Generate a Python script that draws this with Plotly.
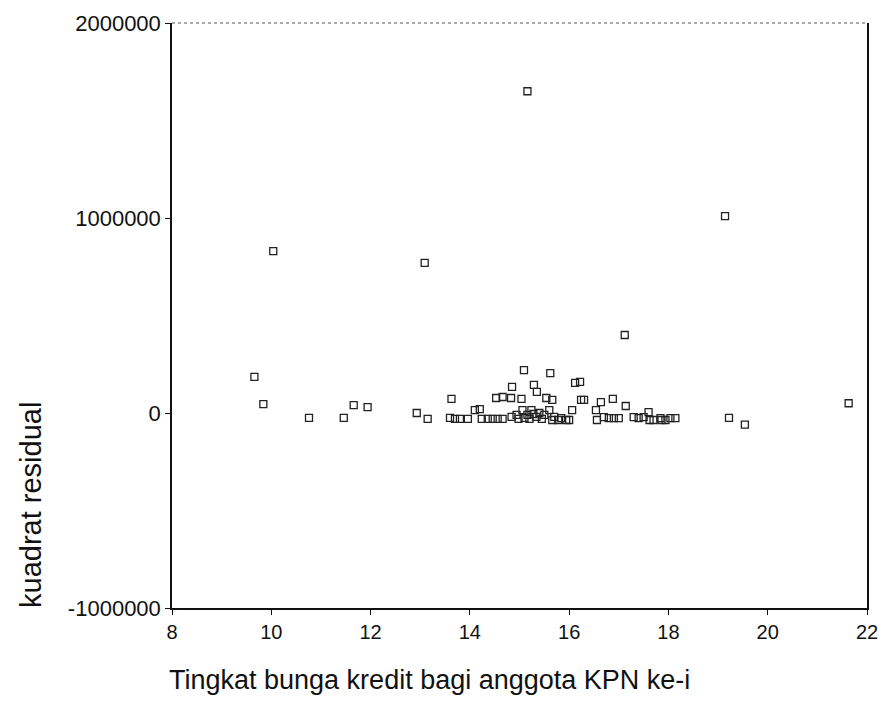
import plotly.graph_objects as go

# Tingkat bunga kredit (x) and kuadrat residual (y)
x_vals = [
    9.66, 9.84, 10.04, 10.76, 11.46, 11.66, 11.94, 12.93, 13.15, 13.09,
    15.16, 19.14, 17.12, 21.63, 19.22, 19.54,
    13.63, 13.60, 13.70, 13.80, 13.96, 14.10, 14.20, 14.24, 14.36, 14.46,
    14.56, 14.66, 14.53, 14.66, 14.83, 14.85, 15.04, 14.84, 14.94, 15.06,
    15.10, 15.16, 15.24, 15.29, 15.35, 15.34, 15.40, 15.09, 15.62, 15.54,
    15.66, 15.60, 15.70, 16.12, 16.22, 16.24, 16.30, 16.64, 16.88, 17.14,
    16.06, 16.54, 17.60, 16.00, 15.94, 16.56, 16.70, 16.80, 16.90, 17.00,
    17.30, 17.40, 17.50, 17.62, 17.70, 17.86, 17.94, 15.66, 15.78, 15.84,
    17.84, 18.04, 18.14, 15.20, 15.45, 15.50, 14.98, 15.28,
]
y_vals = [
    185000, 46000, 830000, -25000, -25000, 40000, 30000, 0, -30000, 770000,
    1650000, 1010000, 400000, 50000, -25000, -60000,
    72000, -25000, -30000, -30000, -30000, 15000, 20000, -30000, -30000, -30000,
    -30000, -30000, 77000, 82000, 77000, 134000, 72000, -20000, -10000, 15000,
    -25000, -10000, 15000, 144000, 108000, -20000, 0, 220000, 205000, 77000,
    67000, 15000, -20000, 154000, 160000, 67000, 67000, 56000, 72000, 36000,
    15000, 15000, 5000, -36000, -36000, -36000, -21000, -26000, -26000, -26000,
    -21000, -26000, -21000, -36000, -36000, -36000, -36000, -36000, -36000, -26000,
    -26000, -26000, -26000, -30000, -30000, -10000, -30000, -5000,
]

x_ticks = [8, 10, 12, 14, 16, 18, 20, 22]
y_ticks = [-1000000, 0, 1000000, 2000000]
y_tick_labels = ["-1000000", "0", "1000000", "2000000"]

fig = go.Figure()
fig.add_trace(go.Scatter(
    x=x_vals, y=y_vals, mode="markers",
    marker=dict(symbol="square-open", size=7, color="#222", line=dict(width=1.3, color="#222")),
    showlegend=False,
))

font_family = "Liberation Sans, Arial, sans-serif"
fig.update_layout(
    width=885, height=728,
    margin=dict(l=172, r=7, t=23, b=120),
    paper_bgcolor="white", plot_bgcolor="white",
    font=dict(family=font_family, color="#111", size=20),
    xaxis=dict(range=[8, 22], tickvals=x_ticks, showgrid=False, zeroline=False,
               showline=True, linecolor="#111", linewidth=1.5, ticks="outside",
               ticklen=5, tickcolor="#111", tickfont=dict(size=20),
               ticklabeloverflow="allow"),
    yaxis=dict(range=[-1000000, 2000000], tickvals=y_ticks, ticktext=y_tick_labels,
               showgrid=False, zeroline=False, showline=True, mirror=True,
               linecolor="#111", linewidth=1.5, ticks="outside", ticklen=5,
               tickcolor="#111", tickfont=dict(size=22)),
    shapes=[dict(type="line", xref="paper", yref="paper", x0=0, x1=1, y0=1, y1=1,
                 line=dict(color="#555", width=1, dash="dot"))],
    annotations=[
        dict(text="Tingkat bunga kredit bagi anggota KPN ke-i", xref="paper", yref="paper",
             x=0.37, y=-0.123, showarrow=False, font=dict(size=27), xanchor="center", yanchor="middle"),
        dict(text="kuadrat residual", xref="paper", yref="paper", textangle=-90,
             x=-0.203, y=0.176, showarrow=False, font=dict(size=29), xanchor="center", yanchor="middle"),
    ],
)

fig.write_html("out.html", config={"displayModeBar": False},
               post_script="document.body.style.margin='0';")
